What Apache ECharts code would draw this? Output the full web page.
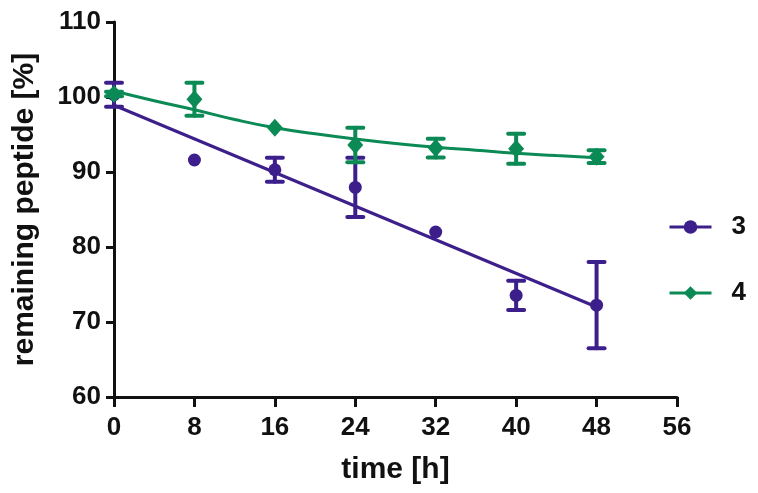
<!DOCTYPE html>
<html><head><meta charset="utf-8">
<script src="https://cdn.jsdelivr.net/npm/echarts@6/dist/echarts.min.js"></script>
<style>html,body{margin:0;padding:0;background:#fff}#c{width:758px;height:493px}</style>
</head><body><div id="c"></div>
<script>
// ---- data ----
const seriesNames = ['3', '4'];
const times = [0, 8, 16, 24, 32, 40, 48];
const mean3 = [100.3, 91.6, 90.3, 87.95, 82.0, 73.55, 72.25];
const err3  = [1.6, 0, 1.6, 3.95, 0, 1.95, 5.75];
const mean4 = [100.4, 99.7, 95.9, 93.6, 93.2, 93.1, 92.05];
const err4  = [0.3, 2.2, 0, 2.3, 1.25, 2.0, 0.85];
const fitTimes3 = [0, 48];
const fit3 = [98.9, 72.0];
const fitTimes4 = [0, 4, 8, 12, 16, 20, 24, 28, 32, 36, 40, 44, 48];
const fit4 = [100.8, 99.5, 98.3, 97.0, 95.9, 95.1, 94.4, 93.8, 93.3, 92.9, 92.5, 92.2, 91.9];
const xMin = 0, xMax = 56, xStep = 8;
const yMin = 60, yMax = 110, yStep = 10;

// ---- styling ----
const C3 = '#3d1f8b';
const C4 = '#0b8a55';
const FONT = '"Liberation Sans", Arial, sans-serif';

const pairs = (xs, ys) => xs.map((x, i) => [x, ys[i]]);
const errData = (xs, m, e) => xs.map((x, i) => [x, m[i] - e[i], m[i] + e[i]]).filter((d, i) => e[i] > 0);

function errRender(color) {
  return function (params, api) {
    const x = api.value(0);
    const lo = api.coord([x, api.value(1)]);
    const hi = api.coord([x, api.value(2)]);
    const hw = 8;
    const st = { stroke: color, lineWidth: 4, lineCap: 'round' };
    return {
      type: 'group',
      children: [
        { type: 'line', shape: { x1: lo[0], y1: lo[1], x2: hi[0], y2: hi[1] }, style: st },
        { type: 'line', shape: { x1: lo[0] - hw, y1: lo[1], x2: lo[0] + hw, y2: lo[1] }, style: st },
        { type: 'line', shape: { x1: hi[0] - hw, y1: hi[1], x2: hi[0] + hw, y2: hi[1] }, style: st }
      ]
    };
  };
}

const chart = echarts.init(document.getElementById('c'), null, { renderer: 'canvas' });
chart.setOption({
  animation: false,
  backgroundColor: '#fff',
  grid: { left: 114, right: 81, top: 22, bottom: 96, containLabel: false },
  legend: {
    orient: 'vertical',
    left: 668, top: 214, padding: 0,
    itemWidth: 42, itemHeight: 17, itemGap: 40,
    data: seriesNames,
    lineStyle: { width: 3 },
    textStyle: { fontFamily: FONT, fontWeight: 'bold', fontSize: 26, color: '#111', padding: [0, 0, 0, 15] }
  },
  xAxis: {
    type: 'value', min: xMin, max: xMax, interval: xStep,
    name: 'time [h]', nameLocation: 'middle', nameGap: 58,
    nameTextStyle: { fontFamily: FONT, fontWeight: 'bold', fontSize: 30, color: '#111' },
    axisLine: { lineStyle: { color: '#111', width: 3 } },
    axisTick: { inside: false, length: 10, lineStyle: { color: '#111', width: 3 } },
    axisLabel: { fontFamily: FONT, fontWeight: 'bold', fontSize: 26, color: '#111', margin: 18 },
    splitLine: { show: false }
  },
  yAxis: {
    type: 'value', min: yMin, max: yMax, interval: yStep,
    name: 'remaining peptide [%]', nameLocation: 'middle', nameGap: 74, nameRotate: 90,
    nameTextStyle: { fontFamily: FONT, fontWeight: 'bold', fontSize: 30, color: '#111' },
    axisLine: { show: true, lineStyle: { color: '#111', width: 3 } },
    axisTick: { show: true, inside: false, length: 8, lineStyle: { color: '#111', width: 3 } },
    axisLabel: { fontFamily: FONT, fontWeight: 'bold', fontSize: 26, color: '#111', margin: 13 },
    splitLine: { show: false }
  },
  series: [
    { name: '3', type: 'line', data: pairs(fitTimes3, fit3), symbol: 'circle', symbolSize: 13, showSymbol: false,
      lineStyle: { color: C3, width: 3 }, itemStyle: { color: C3 }, z: 2 },
    { name: '3', type: 'custom', data: errData(times, mean3, err3), renderItem: errRender(C3), z: 3 },
    { name: '3', type: 'scatter', data: pairs(times, mean3), symbol: 'circle', symbolSize: 13,
      itemStyle: { color: C3, opacity: 1 }, z: 4 },
    { name: '4', type: 'line', data: pairs(fitTimes4, fit4), smooth: true, symbol: 'diamond', symbolSize: 16, showSymbol: false,
      lineStyle: { color: C4, width: 3 }, itemStyle: { color: C4 }, z: 5 },
    { name: '4', type: 'custom', data: errData(times, mean4, err4), renderItem: errRender(C4), z: 6 },
    { name: '4', type: 'scatter', data: pairs(times, mean4), symbol: 'diamond', symbolSize: [16, 18],
      itemStyle: { color: C4, opacity: 1 }, z: 7 }
  ]
});
</script>
</body></html>
